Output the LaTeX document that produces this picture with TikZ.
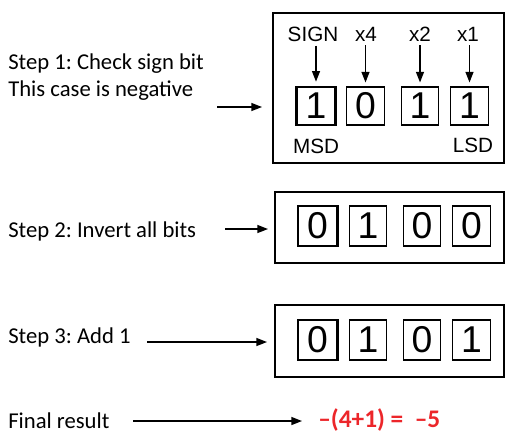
\documentclass[tikz,border=0pt]{standalone}
\usepackage{fontspec}
\setmainfont{Carlito}
\newfontfamily\arialfont{Liberation Sans}
\usetikzlibrary{arrows.meta}
\definecolor{resred}{RGB}{236,38,42}
\frenchspacing

\begin{document}
\begin{tikzpicture}[x=0.75pt,y=-0.75pt,
  frm/.style={draw,line width=1pt,inner sep=0pt},
  bit/.style={draw,line width=0.8pt,minimum width=28pt,minimum height=28.5pt,inner sep=0pt,font=\arialfont\fontsize{28}{28}\selectfont},
  sbit/.style={bit,line width=2pt,minimum width=29.5pt},
  lbl/.style={font=\arialfont\fontsize{15.5}{15.5}\selectfont,inner sep=0pt},
  txt/.style={font=\fontsize{17}{20}\selectfont,inner sep=0pt,anchor=base west,align=left},
  arr/.style={-{Triangle[length=8pt,width=6pt]},line width=1pt}]
\useasboundingbox (0,0) rectangle (505,433);
% frames
\node[frm,minimum width=173.25pt,minimum height=112.5pt] (fa) at (388.5,88) {};
\node[frm,minimum width=171.75pt,minimum height=53.25pt] (fb) at (389.5,227.5) {};
\node[frm,minimum width=171.75pt,minimum height=54pt]    (fc) at (389.5,341) {};
% step 1: sign bit
\node[sbit] (a1) at (316,106)   {1};
\node[bit]  (a2) at (365.5,106) {0};
\node[bit]  (a3) at (420,106)   {1};
\node[bit]  (a4) at (469.5,106) {1};
\node[lbl] (sign) at (313,34) {SIGN};
\node[lbl] (w4)   at (366,34) {x4};
\node[lbl] (w2)   at (420,34) {x2};
\node[lbl] (w1)   at (468,34) {x1};
\node[lbl] (msd)  at (316,146) {MSD};
\node[lbl] (lsd)  at (473,145) {LSD};
\draw[arr,shorten <=3pt,shorten >=3pt] (sign.south -| a1) -- (a1);
\draw[arr,shorten <=3pt,shorten >=3pt] (w4.south -| a2) -- (a2);
\draw[arr,shorten <=3pt,shorten >=3pt] (w2.south -| a3) -- (a3);
\draw[arr,shorten <=3pt,shorten >=3pt] (w1.south -| a4) -- (a4);
% step 2: inverted
\node[sbit,minimum height=30pt] (b1) at (317.5,226) {0};
\node[bit,minimum height=30pt]  (b2) at (368,226)   {1};
\node[bit,minimum height=30pt]  (b3) at (422,226)   {0};
\node[bit,minimum height=30pt]  (b4) at (471.5,226) {0};
% step 3: plus one
\node[sbit,minimum height=30pt] (c1) at (317.5,340) {0};
\node[bit,minimum height=30pt]  (c2) at (368,340)   {1};
\node[bit,minimum height=30pt]  (c3) at (422,340)   {0};
\node[bit,minimum height=30pt]  (c4) at (471.5,340) {1};
% step texts
\node[txt] (s1) at (8,96)  {Step 1: Check sign bit\\This case is negative};
\node[txt] (s2) at (8,237) {Step 2: Invert all bits};
\node[txt] (s3) at (8,343) {Step 3: Add 1};
\node[txt] (fin) at (8,428) {Final result};
\node[txt,text=resred,font=\bfseries\fontsize{19}{20}\selectfont] (res) at (318,427) {–(4+1) =~~–5};
% arrows to frames
\coordinate (t1) at (217,107); \coordinate (h1) at (262,107);
\coordinate (t2) at (225,229); \coordinate (h2) at (268,229);
\coordinate (t3) at (147,342); \coordinate (h3) at (267,342);
\coordinate (t4) at (133,421); \coordinate (h4) at (302,421);
\draw[arr] (t1) -- (h1);
\draw[arr] (t2) -- (h2);
\draw[arr] (t3) -- (h3);
\draw[arr] (t4) -- (h4);
\end{tikzpicture}
\end{document}
